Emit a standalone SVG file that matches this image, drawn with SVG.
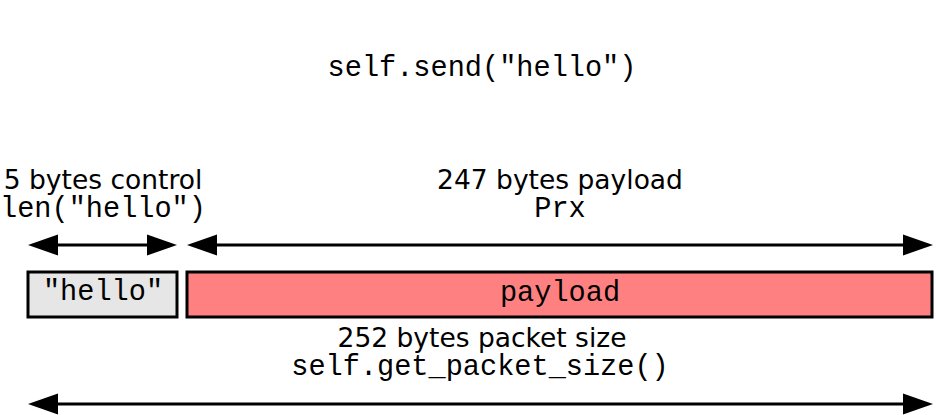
<svg xmlns="http://www.w3.org/2000/svg" width="936" height="415" viewBox="0 0 936 415">
<defs>
<style>
.sans{font-family:"DejaVu Sans","Liberation Sans",sans-serif;font-size:26.5px;fill:#000;text-anchor:middle}
.mono{font-family:"Liberation Mono","Courier New",monospace;font-size:28.6px;fill:#000;text-anchor:middle}
.box{stroke:#000;stroke-width:3}
.conn{stroke:#000;stroke-width:3;fill:none}
.head{fill:#000}
</style>
</defs>
<rect width="936" height="415" fill="#fff"/>
<g id="title"><text class="mono" x="482" y="76">self.send("hello")</text></g>
<g id="control-label">
<text class="sans" x="103" y="189">5 bytes control</text>
<text class="mono" x="103" y="217">len("hello")</text>
</g>
<g id="payload-label">
<text class="sans" x="560" y="189">247 bytes payload</text>
<text class="mono" x="560" y="217">Prx</text>
</g>
<g id="hello-box">
<rect class="box" x="28" y="272" width="149" height="45" fill="#e6e6e6"/>
<text class="mono" x="103" y="300">"hello"</text>
</g>
<g id="payload-box">
<rect class="box" x="187" y="272" width="745" height="45" fill="#ff8080"/>
<text class="mono" x="560" y="301">payload</text>
</g>
<g id="packet-label">
<text class="sans" x="482" y="347">252 bytes packet size</text>
<text class="mono" x="480" y="375">self.get_packet_size()</text>
</g>
<g id="connectors">
<line class="conn" x1="50" y1="245" x2="155" y2="245"/>
<polygon class="head" points="28,245 58,234.5 58,255.5"/>
<polygon class="head" points="177,245 147,234.5 147,255.5"/>
<line class="conn" x1="210" y1="245" x2="910" y2="245"/>
<polygon class="head" points="187,245 217,234.5 217,255.5"/>
<polygon class="head" points="933,245 903,234.5 903,255.5"/>
<line class="conn" x1="50" y1="404" x2="910" y2="404"/>
<polygon class="head" points="28,404 58,393.5 58,414.5"/>
<polygon class="head" points="933,404 903,393.5 903,414.5"/>
</g>
</svg>
